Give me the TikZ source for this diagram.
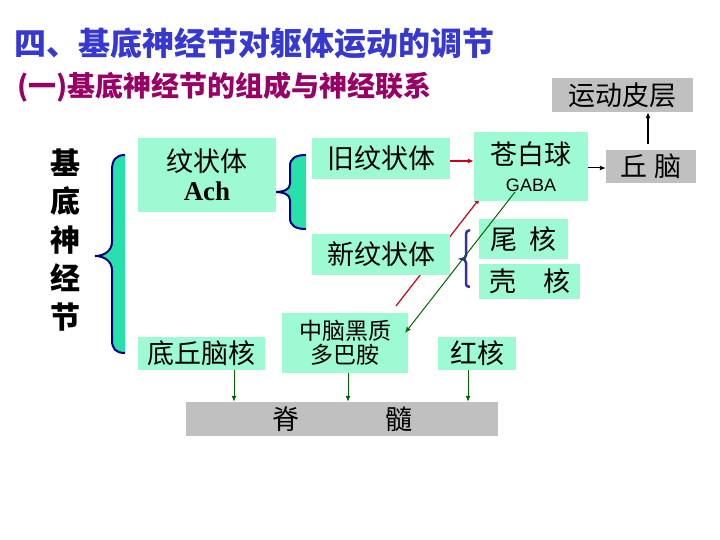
\documentclass[tikz,border=0pt]{standalone}
\usepackage{fontspec}
\usetikzlibrary{arrows.meta,calc}
\newfontfamily\cjk{Noto Sans CJK SC}
\newfontfamily\tms{Liberation Serif}
\newfontfamily\hel{Liberation Sans}
\definecolor{boxc}{RGB}{158,250,210}
\definecolor{bracec}{RGB}{40,225,170}
\definecolor{navyc}{RGB}{0,0,128}
\definecolor{bluebr}{RGB}{51,51,153}
\definecolor{grayc}{RGB}{192,192,192}
\definecolor{titlec}{RGB}{55,55,210}
\definecolor{subc}{RGB}{153,0,102}
\definecolor{redc}{RGB}{200,0,30}
\definecolor{greenc}{RGB}{0,100,0}
\tikzset{
  bx/.style={fill=boxc, inner sep=0pt, align=center, font=\cjk\fontsize{27}{30}\selectfont},
  gbx/.style={fill=grayc, inner sep=0pt, align=center, font=\cjk\fontsize{27}{30}\selectfont},
  arr/.style={-{Latex[length=6pt,width=5pt]}, line width=1.2pt},
  garr/.style={arr, draw=greenc, line width=1pt},
  rarr/.style={arr, draw=redc, line width=1.2pt},
  bigbrace/.style={draw=navyc, line width=2pt},
}
\begin{document}
\begin{tikzpicture}[x=1pt,y=-1pt]
\useasboundingbox (0,0) rectangle (720,540);
% titles
\node[anchor=west, inner sep=0pt, text=titlec, font=\cjk\bfseries\fontsize{32}{34}\selectfont] (title) at (14,43) {四、基底神经节对躯体运动的调节};
\node[anchor=west, inner sep=0pt, text=subc, font=\cjk\bfseries\fontsize{28}{30}\selectfont] (sub) at (17,87) {(一)基底神经节的组成与神经联系};
% red line behind boxes
\coordinate (r1) at (396,306);
\coordinate (r2) at (480,198);
\draw[rarr] (r1) -- (r2);
% vertical label
\node[inner sep=0pt, align=center, font=\cjk\bfseries\fontsize{30}{38.5}\selectfont] (jd) at (65,240) {基\\底\\神\\经\\节};
% braces
\fill[bracec] (125,155) .. controls (116,155) and (112,160) .. (112,170) -- (112,242) .. controls (112,250) and (105,256) .. (95,256) .. controls (105,256) and (112,262) .. (112,270) -- (112,340) .. controls (112,349) and (116,353) .. (125,353) -- cycle;
\draw[bigbrace] (125,155) .. controls (116,155) and (112,160) .. (112,170) -- (112,242) .. controls (112,250) and (105,256) .. (95,256) .. controls (105,256) and (112,262) .. (112,270) -- (112,340) .. controls (112,349) and (116,353) .. (125,353);
\fill[bracec] (306,155) .. controls (296,155) and (290,158) .. (290,166) -- (290,184) .. controls (290,190) and (283,192) .. (274,192) .. controls (283,192) and (290,194) .. (290,200) -- (290,218) .. controls (290,226) and (296,229) .. (306,229) -- cycle;
\draw[bigbrace] (306,155) .. controls (296,155) and (290,158) .. (290,166) -- (290,184) .. controls (290,190) and (283,192) .. (274,192) .. controls (283,192) and (290,194) .. (290,200) -- (290,218) .. controls (290,226) and (296,229) .. (306,229);
\draw[draw=bluebr, line width=2.5pt] (470,230) .. controls (467,230) and (466,232) .. (466,236) -- (466,255) .. controls (466,258) and (464,259) .. (462,259) .. controls (464,259) and (466,260) .. (466,263) -- (466,282) .. controls (466,286) and (467,287) .. (470,287);
% boxes
\node[bx, minimum width=138pt, minimum height=74pt] (wzt) at (207,175) {纹状体\\[-1pt]{\tms\bfseries Ach}};
\node[bx, minimum width=138pt, minimum height=41pt] (jwz) at (381,158.5) {旧纹状体};
\node[bx, minimum width=138pt, minimum height=41pt] (xwz) at (381,254.5) {新纹状体};
\node[bx, minimum width=114pt, minimum height=69pt] (bq) at (531,166.5) {苍白球\\[-3pt]{\hel\fontsize{18}{20}\selectfont GABA}};
\node[gbx, minimum width=90pt, minimum height=33pt] (qn) at (651,166.5) {丘 脑};
\node[gbx, minimum width=141pt, minimum height=34pt] (ydpc) at (622.5,95) {运动皮层};
\node[bx, minimum width=89pt, minimum height=40pt] (wh) at (523.5,239) {尾\hspace{0.45em}核};
\node[bx, minimum width=101pt, minimum height=35pt] (kh) at (529.5,281.5) {壳\hspace{1em}核};
\node[bx, minimum width=127pt, minimum height=33pt] (dqn) at (201.5,353.5) {底丘脑核};
\node[bx, minimum width=126pt, minimum height=60pt, font=\cjk\fontsize{23}{24}\selectfont] (hz) at (345,343) {中脑黑质\\多巴胺};
\node[bx, minimum width=78pt, minimum height=33pt] (hh) at (477,353.5) {红核};
\node[gbx, minimum width=312pt, minimum height=34pt] (js) at (342,419) {脊\hspace{86pt}髓};
% connectors
\draw[arr, draw=black] ([xshift=-3pt,yshift=6pt]qn.north) -- ([xshift=-3pt]qn.north |- ydpc.south);
\draw[arr, draw=black, line width=1pt] ([yshift=-1.5pt]bq.east) -- ([yshift=-1.5pt]qn.west);
\draw[rarr] ([yshift=-2.5pt]jwz.east) -- ([yshift=-2.5pt]jwz.east -| bq.west);
\coordinate (g1) at (515,192);
\coordinate (g2) at (405,333);
\draw[garr] (g1) -- (g2);
\draw[garr] ([xshift=32.5pt]dqn.south) -- ([xshift=32.5pt]dqn.south |- js.north);
\draw[garr] ([xshift=3pt]hz.south) -- ([xshift=3pt]hz.south |- js.north);
\draw[garr] ([xshift=-9pt]hh.south) -- ([xshift=-9pt]hh.south |- js.north);
\end{tikzpicture}
\end{document}
